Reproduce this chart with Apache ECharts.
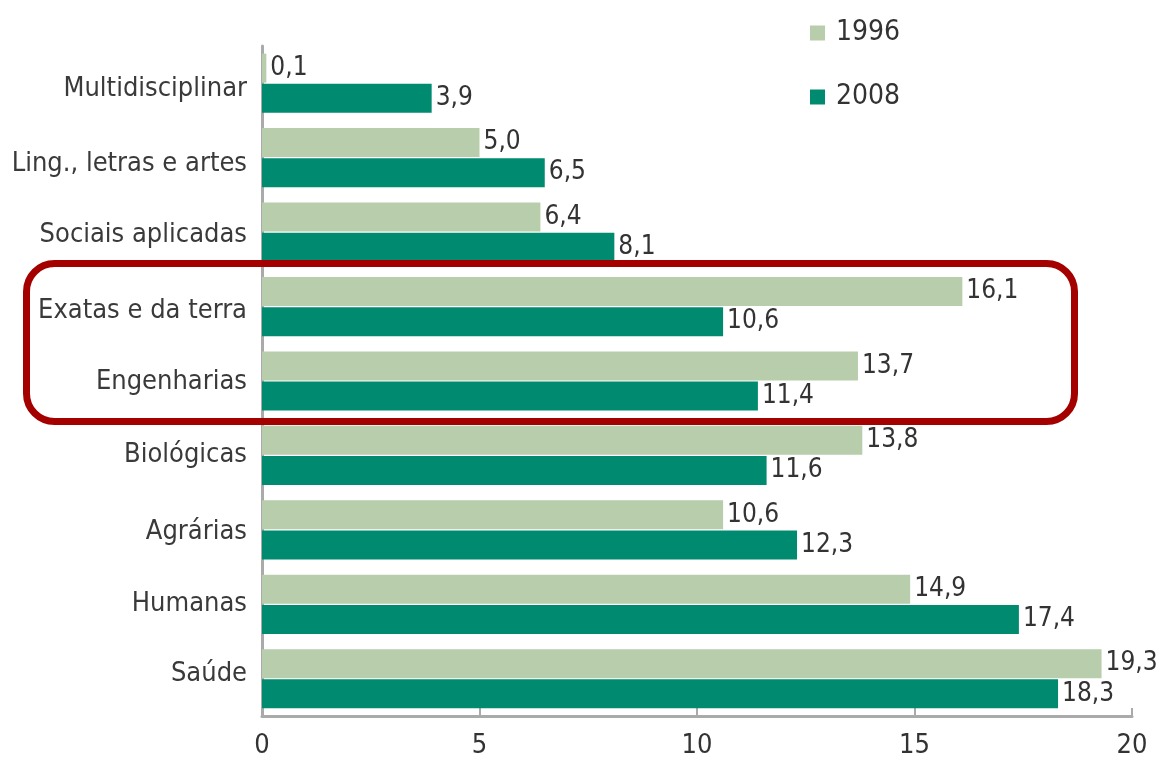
<!DOCTYPE html>
<html lang="pt">
<head>
    <meta charset="UTF-8">
    <title>Áreas do conhecimento</title>
    <script src="https://cdn.jsdelivr.net/npm/echarts@6/dist/echarts.min.js"></script>
    <style>
      html, body { margin: 0; padding: 0; background: #fff; }
      #chart { width: 1165px; height: 771px; }
    </style>
</head>
<body>
  <div id="chart"></div>

  <script type="text/javascript">
    // dados
    const categories = ['Multidisciplinar', 'Ling., letras e artes', 'Sociais aplicadas', 'Exatas e da terra',
      'Engenharias', 'Biológicas', 'Agrárias', 'Humanas', 'Saúde'];
    const values1996 = [0.1, 5.0, 6.4, 16.1, 13.7, 13.8, 10.6, 14.9, 19.3];
    const values2008 = [3.9, 6.5, 8.1, 10.6, 11.4, 11.6, 12.3, 17.4, 18.3];
    const xTicks = [0, 5, 10, 15, 20];

    const font = '"DejaVu Sans Condensed", "Liberation Sans Narrow", "Open Sans", sans-serif';

    // small vertical nudges of the category names, like in the original layout
    const labelShift = [6, 6, 3, 4, 1, 0, 2, 0, -5];
    const rich = {};
    labelShift.forEach(function (s, i) {
      rich['c' + i] = {
        fontFamily: font, fontSize: 27, color: '#3a3a3a',
        padding: s >= 0 ? [2 * s, 0, 0, 0] : [0, 0, -2 * s, 0]
      };
    });

    var dom = document.getElementById('chart');
    var myChart = echarts.init(dom, null, { renderer: 'canvas' });

    const labelOpt = {
      show: true,
      position: 'right',
      distance: 4,
      color: '#333',
      fontFamily: font,
      fontSize: 26,
      formatter: function (p) { return p.value.toFixed(1).replace('.', ','); }
    };

    var option = {
      animation: false,
      textStyle: { fontFamily: font },
      legend: {
        orient: 'vertical',
        left: 805,
        top: 14,
        itemWidth: 15,
        itemHeight: 15,
        itemGap: 36,
        icon: 'rect',
        textStyle: { fontFamily: font, fontSize: 28, color: '#333', padding: [0, 0, 0, 6] },
        data: ['1996', '2008']
      },
      grid: { left: 262, right: 33, top: 46, bottom: 55, containLabel: false },
      xAxis: {
        type: 'value',
        min: xTicks[0],
        max: xTicks[xTicks.length - 1],
        interval: 5,
        splitLine: { show: false },
        axisLine: { show: true, lineStyle: { color: '#aaa', width: 3 } },
        axisTick: { show: true, inside: true, length: 8, lineStyle: { color: '#aaa', width: 2 } },
        axisLabel: { color: '#333', fontFamily: font, fontSize: 27, margin: 16 }
      },
      yAxis: {
        type: 'category',
        inverse: true,
        data: categories,
        axisLine: { show: true, lineStyle: { color: '#aaa', width: 3 } },
        axisTick: { show: false },
        axisLabel: {
          margin: 15,
          rich: rich,
          formatter: function (value, index) { return '{c' + index + '|' + value + '}'; }
        }
      },
      series: [
        {
          name: '1996',
          type: 'bar',
          barWidth: 29,
          barGap: '4%',
          itemStyle: { color: '#b7cdab' },
          label: labelOpt,
          data: values1996
        },
        {
          name: '2008',
          type: 'bar',
          barWidth: 29,
          itemStyle: { color: '#008a70' },
          label: labelOpt,
          data: values2008
        }
      ],
      graphic: [
        {
          type: 'rect',
          left: 23,
          top: 260,
          shape: { x: 0, y: 0, width: 1048, height: 158, r: 28 },
          style: { fill: 'none', stroke: '#a50000', lineWidth: 7 },
          z: 100
        }
      ]
    };

    myChart.setOption(option);
    window.addEventListener('resize', myChart.resize);
  </script>
</body>
</html>
